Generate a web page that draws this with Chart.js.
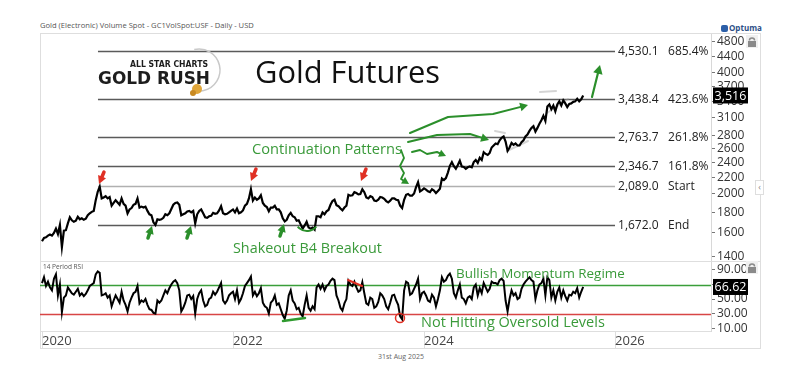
<!DOCTYPE html>
<html>
<head>
<meta charset="utf-8">
<script src="https://cdn.jsdelivr.net/npm/chart.js@4.4.1/dist/chart.umd.min.js"></script>
<style>
body { margin: 0; background: #fff; width: 800px; height: 370px; position: relative; overflow: hidden; font-family: "Open Sans", sans-serif; }
canvas { position: absolute; left: 0; }
#main { top: 0; }
#rsi { top: 261px; }
.frame { position: absolute; left: 40px; top: 33px; width: 719px; height: 314px; border: 1px solid #dedede; }
.sep { position: absolute; left: 40px; top: 261px; width: 720px; height: 1px; background: #dedede; }
.hdr { position: absolute; left: 40px; top: 20px; font-size: 7.6px; color: #555; white-space: nowrap; }
.foot { position: absolute; left: 378px; top: 352px; font-size: 7px; color: #666; white-space: nowrap; }
.optuma { position: absolute; left: 721px; top: 22px; font-size: 8px; font-weight: bold; color: #2c4f86; white-space: nowrap; }
.optuma span { display: inline-block; width: 7px; height: 7px; background: #2c5fa8; border-radius: 2px; margin-right: 1px; vertical-align: -1px; }
.tab { position: absolute; left: 755px; top: 180px; width: 7px; height: 13px; border: 1px solid #dedede; background: #fff; font-size: 9px; color: #888; line-height: 12px; text-align: center; }
</style>
</head>
<body>
<div class="frame"></div>
<div class="sep"></div>
<div class="hdr">Gold (Electronic) Volume Spot - GC1VolSpot:USF - Daily - USD</div>
<div class="optuma"><span></span>Optuma</div>
<div class="tab">‹</div>
<div class="foot">31st Aug 2025</div>
<canvas id="rsi" width="800" height="109"></canvas>
<canvas id="main" width="800" height="272"></canvas>
<script>
// weekly closes, Jan 2020 -> end Aug 2025 (4 per month)
const priceValues = [
  1525, 1555, 1560, 1575,  1585, 1575, 1600, 1640,  1590, 1675, 1475, 1620,
  1625, 1690, 1750, 1720,  1705, 1715, 1755, 1730,  1740, 1725, 1735, 1770,
  1790, 1805, 1815, 1930,  2025, 2085, 1950, 1960,  1975, 1950, 1965, 1870,
  1900, 1930, 1905, 1880,  1950, 1890, 1870, 1790,  1830, 1845, 1880, 1890,
  1950, 1850, 1860, 1850,  1860, 1815, 1780, 1770,  1700, 1675, 1730, 1725,
  1730, 1745, 1780, 1770,  1790, 1835, 1880, 1900,  1905, 1880, 1770, 1780,
  1790, 1810, 1815, 1800,  1815, 1690, 1780, 1815,  1830, 1790, 1750, 1745,
  1760, 1765, 1795, 1785,  1790, 1820, 1865, 1790,  1780, 1785, 1800, 1815,
  1830, 1800, 1840, 1790,  1800, 1820, 1870, 1890,  1950, 2055, 1925, 1960,
  1935, 1950, 1985, 1900,  1870, 1855, 1810, 1850,  1850, 1870, 1830, 1830,
  1800, 1740, 1710, 1725,  1770, 1795, 1760, 1750,  1715, 1720, 1680, 1640,
  1670, 1705, 1650, 1640,  1650, 1630, 1760, 1760,  1750, 1800, 1780, 1810,
  1825, 1880, 1920, 1935,  1875, 1865, 1840, 1820,  1850, 1870, 1990, 1980,
  1985, 2020, 2010, 1995,  2000, 2055, 2020, 1960,  1950, 1975, 1965, 1925,
  1920, 1935, 1965, 1960,  1945, 1920, 1905, 1925,  1950, 1950, 1935, 1930,
  1870, 1845, 1935, 1990,  2000, 1980, 1980, 2005,  2080, 2140, 2030, 2045,
  2065, 2050, 2030, 2020,  2055, 2040, 2010, 2035,  2060, 2185, 2165, 2190,
  2260, 2350, 2400, 2345,  2310, 2360, 2420, 2340,  2335, 2310, 2330, 2340,
  2330, 2400, 2430, 2390,  2460, 2430, 2540, 2515,  2500, 2530, 2610, 2640,
  2670, 2660, 2720, 2760,  2780, 2700, 2560, 2610,  2680, 2650, 2670, 2640,
  2640, 2690, 2720, 2780,  2810, 2870, 2920, 2950,  2860, 2920, 2990, 3050,
  3130, 3040, 3300, 3340,  3250, 3320, 3210, 3340,  3400, 3320, 3420, 3360,
  3290, 3350, 3360, 3390,  3400, 3450, 3400, 3440,
  3516
];

const rsiValues = [
  72, 80, 68, 74,  66, 62, 78, 84,  55, 70, 32, 52,
  55, 66, 62, 58,  56, 60, 64, 55,  58, 54, 57, 62,
  68, 70, 72, 84,  88, 86, 55, 56,  58, 52, 55, 40,
  48, 55, 50, 45,  60, 48, 42, 33,  45, 52, 58, 60,
  68, 44, 48, 46,  50, 42, 36, 35,  31, 30, 48, 45,
  48, 55, 62, 58,  65, 70, 74, 76,  72, 62, 33, 38,
  45, 55, 56, 50,  54, 30, 50, 58,  62, 48, 40, 42,
  50, 52, 60, 56,  60, 66, 72, 48,  44, 48, 55, 58,
  60, 50, 62, 45,  50, 58, 68, 72,  76, 81, 55, 60,
  54, 58, 65, 45,  40, 38, 30, 45,  48, 55, 42, 44,
  36, 28, 23, 34,  55, 62, 48, 44,  36, 38, 30, 26,
  42, 55, 38, 34,  40, 36, 66, 70,  64, 70, 62, 68,
  70, 75, 78, 76,  55, 48, 38, 34,  44, 50, 75, 70,
  68, 74, 66, 60,  62, 73, 58, 44,  42, 52, 50, 38,
  40, 46, 58, 55,  50, 40, 36, 45,  55, 56, 48, 42,
  26, 22, 62, 74,  72, 56, 58, 64,  70, 78, 50, 58,
  60, 55, 48, 46,  56, 52, 40, 50,  62, 80, 74, 76,
  82, 85, 78, 58,  52, 62, 70, 52,  50, 44, 52, 54,
  50, 66, 70, 55,  65, 58, 72, 66,  60, 64, 74, 72,
  72, 70, 76, 78,  75, 48, 33, 50,  62, 55, 58, 50,
  52, 64, 70, 74,  77, 80, 76, 74,  50, 62, 70, 72,
  78, 55, 80, 76,  52, 62, 48, 60,  66, 52, 62, 54,
  48, 56, 55, 60,  58, 65, 52, 60,
  66.62
];

const startYear = 2020;
const yearTicks = [2020, 2022, 2024, 2026];
const priceTicks = [1400, 1600, 1800, 2000, 2200, 2400, 2600, 2800, 3100, 3400, 3700, 4000, 4400, 4800];
const rsiTicks = [10, 30, 50, 70, 90];
const levelValues = [4530.1, 3438.4, 2763.7, 2346.7, 2089.0, 1672.0];
const levelTags = ['685.4%', '423.6%', '261.8%', '161.8%', 'Start', 'End'];
const rsiUpper = 70;
const rsiLower = 30;

const xMin = 2019.979, xMax = 2027.005;
const toPoints = vals => vals.map((v, i) => ({ x: startYear + i / 48, y: v }));

const FONT = '"Open Sans", sans-serif';
const GREEN = '#2b8f2b';
const TXT_GREEN = '#3a9a3a';
const RED = '#e03024';

function arrow(ctx, pts, color, lw, head) {
  ctx.save();
  ctx.strokeStyle = color; ctx.fillStyle = color;
  ctx.lineWidth = lw; ctx.lineJoin = 'round'; ctx.lineCap = 'round';
  const n = pts.length;
  const [x1, y1] = pts[n - 2], [x2, y2] = pts[n - 1];
  const a = Math.atan2(y2 - y1, x2 - x1);
  ctx.beginPath();
  ctx.moveTo(pts[0][0], pts[0][1]);
  for (let i = 1; i < n - 1; i++) ctx.lineTo(pts[i][0], pts[i][1]);
  ctx.lineTo(x2 - head * 0.6 * Math.cos(a), y2 - head * 0.6 * Math.sin(a));
  ctx.stroke();
  ctx.beginPath();
  ctx.moveTo(x2, y2);
  ctx.lineTo(x2 - head * Math.cos(a - 0.5), y2 - head * Math.sin(a - 0.5));
  ctx.lineTo(x2 - head * Math.cos(a + 0.5), y2 - head * Math.sin(a + 0.5));
  ctx.closePath();
  ctx.fill();
  ctx.restore();
}

function seg(ctx, pts, color, lw) {
  ctx.save();
  ctx.strokeStyle = color; ctx.lineWidth = lw; ctx.lineCap = 'round';
  ctx.beginPath();
  ctx.moveTo(pts[0][0], pts[0][1]);
  for (let i = 1; i < pts.length; i++) ctx.lineTo(pts[i][0], pts[i][1]);
  ctx.stroke();
  ctx.restore();
}

// text sized so it spans the given width
function fitText(ctx, str, x, y, w, weight, color) {
  ctx.save();
  ctx.font = `${weight} 20px ${FONT}`;
  const size = 20 * w / ctx.measureText(str).width;
  ctx.font = `${weight} ${size}px ${FONT}`;
  ctx.fillStyle = color; ctx.textBaseline = 'alphabetic'; ctx.textAlign = 'left';
  ctx.fillText(str, x, y);
  ctx.restore();
}

function valueBox(ctx, str, cy) {
  ctx.save();
  ctx.fillStyle = '#000';
  ctx.fillRect(713, cy - 8, 35, 16);
  ctx.fillStyle = '#fff';
  ctx.font = `12.5px ${FONT}`;
  ctx.textAlign = 'center'; ctx.textBaseline = 'middle';
  ctx.fillText(str, 730.5, cy + 0.5);
  ctx.restore();
}

function lockIcon(ctx, x, y) {
  ctx.save();
  ctx.fillStyle = '#f0f0f0';
  ctx.fillRect(x - 6, y - 7, 12, 13);
  ctx.strokeStyle = '#8a8a8a'; ctx.fillStyle = '#8a8a8a'; ctx.lineWidth = 1.5;
  ctx.beginPath(); ctx.arc(x, y - 1.5, 2.6, Math.PI, 0); ctx.stroke();
  ctx.fillRect(x - 4, y - 1, 8, 6);
  ctx.restore();
}

const mainDecor = {
  id: 'mainDecor',
  beforeDatasetsDraw(chart) {
    const { ctx, scales: { x, y } } = chart;
    const x0 = x.getPixelForValue(2020.586), x1 = x.getPixelForValue(2026.0);
    ctx.save();
    levelValues.forEach((v, i) => {
      const py = Math.round(y.getPixelForValue(v)) + 0.5;
      ctx.strokeStyle = v === 2089.0 ? '#b0b0b0' : '#5a5a5a';
      ctx.lineWidth = 1.3;
      ctx.beginPath(); ctx.moveTo(x0, py); ctx.lineTo(x1, py); ctx.stroke();
      ctx.fillStyle = '#222';
      ctx.font = `12px ${FONT}`;
      ctx.textBaseline = 'middle';
      ctx.fillText(v.toLocaleString('en-US', { minimumFractionDigits: 1 }), x1 + 3, py);
      ctx.fillText(levelTags[i], x1 + 53, py);
    });
    // faint pattern lines
    const faint = 'rgba(160,160,160,0.45)';
    seg(ctx, [[495, 131], [505, 133]], faint, 2);
    seg(ctx, [[507, 151], [528, 141]], faint, 2);
    seg(ctx, [[540, 92], [556, 91]], faint, 2);
    seg(ctx, [[547, 113], [568, 99]], faint, 2);
    seg(ctx, [[420, 186], [440, 186]], faint, 2);
    ctx.restore();
  },
  afterDraw(chart) {
    const { ctx, scales: { y } } = chart;
    ctx.save();
    // logo
    ctx.font = `bold 20px "DejaVu Sans", sans-serif`;
    let m = ctx.measureText('GOLD RUSH').width;
    ctx.save();
    ctx.translate(98, 84); ctx.scale(112 / m, 0.85);
    ctx.fillStyle = '#1d1d1d';
    ctx.fillText('GOLD RUSH', 0, 0);
    ctx.restore();
    ctx.font = `bold 9px "DejaVu Sans", sans-serif`;
    m = ctx.measureText('ALL STAR CHARTS').width;
    ctx.save();
    ctx.translate(130, 67); ctx.scale(78 / m, 1);
    ctx.fillStyle = '#1d1d1d';
    ctx.fillText('ALL STAR CHARTS', 0, 0);
    ctx.restore();
    ctx.strokeStyle = '#c9c9c9'; ctx.lineWidth = 1.5;
    ctx.beginPath(); ctx.arc(199, 70, 21, -1.8, 1.75); ctx.stroke();
    ctx.fillStyle = '#e0a63a';
    ctx.beginPath(); ctx.arc(197, 89, 5, 0, Math.PI * 2); ctx.fill();
    ctx.fillStyle = '#c98a22';
    ctx.beginPath(); ctx.arc(193, 93, 3, 0, Math.PI * 2); ctx.fill();

    fitText(ctx, 'Gold Futures', 255, 83, 185, 'normal', '#111');

    // turning points
    [[99, 184], [251, 181], [361, 181]].forEach(([px, py]) =>
      arrow(ctx, [[px + 5, py - 12], [px, py]], RED, 3.5, 9));
    [[152, 226], [191, 226], [284, 224]].forEach(([px, py]) =>
      arrow(ctx, [[px - 4, py + 12], [px, py]], GREEN, 3.5, 9));
    ctx.strokeStyle = GREEN; ctx.lineWidth = 2;
    ctx.beginPath(); ctx.arc(307, 219, 12, 0.22 * Math.PI, 0.78 * Math.PI); ctx.stroke();

    // continuation patterns
    arrow(ctx, [[410, 133], [448, 117], [493, 114], [528, 105]], GREEN, 2, 9);
    arrow(ctx, [[408, 142], [437, 135], [470, 134], [489, 140]], GREEN, 2, 9);
    arrow(ctx, [[412, 152], [420, 150], [427, 154], [437, 152], [446, 156]], GREEN, 2, 8);
    arrow(ctx, [[401, 150], [404, 158], [400, 166], [404, 173], [401, 179], [409, 184]], GREEN, 1.8, 8);
    arrow(ctx, [[592, 97], [600, 65]], GREEN, 2.2, 10);

    fitText(ctx, 'Continuation Patterns', 252, 154, 150, 'normal', TXT_GREEN);
    fitText(ctx, 'Shakeout B4 Breakout', 233, 253, 149, 'normal', TXT_GREEN);

    lockIcon(ctx, 752, 42);
    valueBox(ctx, '3,516', y.getPixelForValue(priceValues[priceValues.length - 1]));
    ctx.restore();
  }
};

const rsiDecor = {
  id: 'rsiDecor',
  beforeDatasetsDraw(chart) {
    const { ctx, chartArea: a, scales: { y } } = chart;
    ctx.save();
    ctx.lineWidth = 1.3;
    [[rsiUpper, '#3a9e3a'], [rsiLower, '#d84545']].forEach(([v, c]) => {
      const py = Math.round(y.getPixelForValue(v)) + 0.5;
      ctx.strokeStyle = c;
      ctx.beginPath(); ctx.moveTo(a.left, py); ctx.lineTo(a.right, py); ctx.stroke();
    });
    ctx.fillStyle = '#555';
    ctx.font = `6.5px ${FONT}`;
    ctx.textBaseline = 'middle';
    ctx.fillText('14 Period RSI', 43, 6);
    ctx.restore();
  },
  afterDraw(chart) {
    const { ctx, scales: { y } } = chart;
    ctx.save();
    ctx.translate(0, -261);
    seg(ctx, [[283, 321], [305, 318]], '#2f9a2f', 2.5);
    seg(ctx, [[348, 280], [362, 286]], RED, 2);
    ctx.strokeStyle = RED; ctx.lineWidth = 1.5;
    ctx.beginPath(); ctx.arc(400, 318, 4.5, 0, Math.PI * 2); ctx.stroke();
    fitText(ctx, 'Bullish Momentum Regime', 456, 278, 169, 'normal', TXT_GREEN);
    fitText(ctx, 'Not Hitting Oversold Levels', 421, 327, 184, 'normal', TXT_GREEN);
    lockIcon(ctx, 752, 268);
    ctx.restore();
    ctx.save();
    valueBox(ctx, String(rsiValues[rsiValues.length - 1]), y.getPixelForValue(rsiValues[rsiValues.length - 1]));
    ctx.restore();
  }
};

const yAxisCommon = {
  position: 'right',
  afterFit(s) { s.width = 49; s.paddingTop = 0; s.paddingBottom = 0; },
  grid: { drawOnChartArea: false, tickLength: 4, color: '#777' },
  border: { color: '#d8d8d8' }
};

new Chart(document.getElementById('main'), {
  type: 'line',
  data: {
    datasets: [{
      data: toPoints(priceValues),
      borderColor: '#000',
      borderWidth: 2.2,
      pointRadius: 0,
      tension: 0
    }]
  },
  options: {
    responsive: false,
    animation: false,
    layout: { padding: { left: 40, right: 40, top: 34, bottom: 12 } },
    plugins: { legend: { display: false }, tooltip: { enabled: false } },
    scales: {
      x: { type: 'linear', display: false, min: xMin, max: xMax },
      y: {
        ...yAxisCommon,
        type: 'logarithmic',
        min: 1370,
        max: 5000,
        afterBuildTicks(s) { s.ticks = priceTicks.map(v => ({ value: v })); },
        ticks: { callback: v => String(v), autoSkip: false, padding: 2, color: '#333', font: { family: 'Open Sans', size: 12 } }
      }
    }
  },
  plugins: [mainDecor]
});

new Chart(document.getElementById('rsi'), {
  type: 'line',
  data: {
    datasets: [{
      data: toPoints(rsiValues),
      borderColor: '#000',
      borderWidth: 2,
      pointRadius: 0,
      tension: 0
    }]
  },
  options: {
    responsive: false,
    animation: false,
    layout: { padding: { left: 40, right: 40, top: 1, bottom: 22 } },
    plugins: { legend: { display: false }, tooltip: { enabled: false } },
    scales: {
      x: {
        type: 'linear', min: xMin, max: xMax,
        afterFit(s) { s.height = 17; s.paddingLeft = 0; s.paddingRight = 0; },
        afterBuildTicks(s) { s.ticks = yearTicks.map(v => ({ value: v })); },
        grid: { drawOnChartArea: false, tickLength: 17, color: '#dedede' },
        border: { color: '#dedede' },
        ticks: { callback: v => String(v), align: 'start', padding: -15, autoSkip: false, maxRotation: 0, color: '#444', font: { family: 'Open Sans', size: 13 } }
      },
      y: {
        ...yAxisCommon,
        type: 'linear',
        min: 6,
        max: 101,
        afterBuildTicks(s) { s.ticks = rsiTicks.map(v => ({ value: v })); },
        ticks: { callback: v => v.toFixed(2), autoSkip: false, padding: 2, color: '#333', font: { family: 'Open Sans', size: 12 } }
      }
    }
  },
  plugins: [rsiDecor]
});
</script>
</body>
</html>
